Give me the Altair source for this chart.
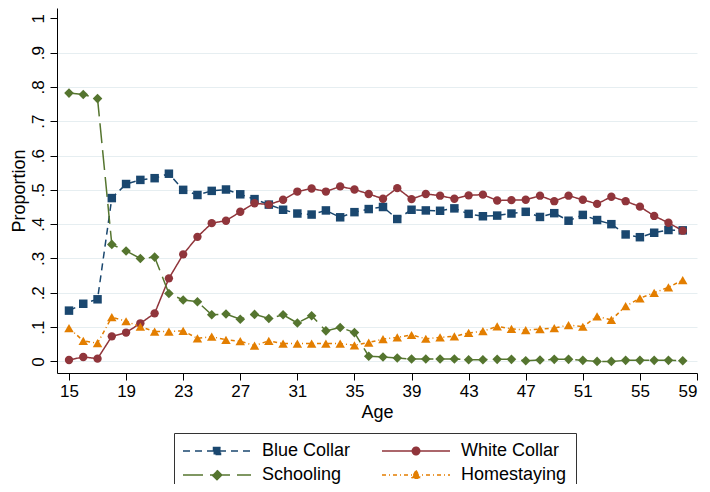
import altair as alt
import pandas as pd

ages = list(range(15, 59))

blue_collar = [0.148, 0.168, 0.181, 0.476, 0.517, 0.529, 0.534, 0.547, 0.500, 0.485,
               0.497, 0.501, 0.487, 0.473, 0.457, 0.442, 0.431, 0.428, 0.440, 0.420,
               0.435, 0.444, 0.450, 0.415, 0.442, 0.440, 0.439, 0.446, 0.430, 0.423,
               0.425, 0.431, 0.436, 0.421, 0.432, 0.410, 0.427, 0.412, 0.400, 0.370,
               0.362, 0.375, 0.383, 0.382]
white_collar = [0.004, 0.013, 0.008, 0.073, 0.084, 0.111, 0.140, 0.242, 0.312, 0.363,
                0.403, 0.410, 0.436, 0.461, 0.457, 0.471, 0.495, 0.504, 0.495, 0.510,
                0.501, 0.488, 0.474, 0.505, 0.473, 0.488, 0.483, 0.474, 0.484, 0.486,
                0.469, 0.470, 0.471, 0.483, 0.467, 0.483, 0.471, 0.459, 0.480, 0.467,
                0.451, 0.424, 0.404, 0.381]
schooling = [0.782, 0.778, 0.766, 0.341, 0.322, 0.300, 0.304, 0.198, 0.179, 0.174,
             0.136, 0.138, 0.123, 0.137, 0.125, 0.136, 0.112, 0.133, 0.089, 0.099,
             0.084, 0.015, 0.013, 0.010, 0.007, 0.007, 0.007, 0.007, 0.005, 0.005,
             0.006, 0.006, 0.002, 0.004, 0.006, 0.006, 0.003, 0.000, 0.000, 0.003,
             0.003, 0.003, 0.003, 0.002]
homestaying = [0.097, 0.060, 0.053, 0.129, 0.117, 0.101, 0.087, 0.087, 0.089, 0.067,
               0.072, 0.063, 0.059, 0.046, 0.060, 0.052, 0.052, 0.052, 0.052, 0.052,
               0.047, 0.055, 0.065, 0.070, 0.077, 0.066, 0.070, 0.073, 0.083, 0.088,
               0.102, 0.095, 0.091, 0.094, 0.097, 0.106, 0.101, 0.131, 0.121, 0.161,
               0.184, 0.200, 0.216, 0.237]

x_ticks = [15, 19, 23, 27, 31, 35, 39, 43, 47, 51, 55, 59]
y_ticks = [0, 0.1, 0.2, 0.3, 0.4, 0.5, 0.6, 0.7, 0.8, 0.9, 1]

# legend order (column-major in the legend grid)
series_names = ["Blue Collar", "Schooling", "White Collar", "Homestaying"]
colors = ["#1a476f", "#55752f", "#90353b", "#e37e00"]
shapes = ["square", "diamond", "circle", "triangle-up"]
sizes = [72, 92, 70, 90]
dashes = [[7, 5], [20, 7], [1, 0], [4, 3, 1, 3]]

rows = []
for name, vals in [("Blue Collar", blue_collar), ("White Collar", white_collar),
                   ("Schooling", schooling), ("Homestaying", homestaying)]:
    for a, v in zip(ages, vals):
        rows.append({"age": a, "value": v, "series": name})
df = pd.DataFrame(rows)

FONT = "Liberation Sans"

line_path = "M-6.8,0H6.8"
legend_paths = {
    "Blue Collar": line_path + "M-0.7,-0.7H0.7V0.7H-0.7Z",
    "White Collar": line_path + "M0.75,0A0.75,0.75 0 1,1 -0.75,0A0.75,0.75 0 1,1 0.75,0Z",
    "Schooling": line_path + "M0,-0.95L0.95,0L0,0.95L-0.95,0Z",
    "Homestaying": line_path + "M0,-0.9L0.9,0.65L-0.9,0.65Z",
}
shape_expr = " : ".join(
    [f"datum.value === '{k}' ? '{v}'" for k, v in legend_paths.items()]
) + " : 'circle'"

legend = alt.Legend(
    title=None,
    orient="none",
    legendX=117,
    legendY=425,
    columns=2,
    columnPadding=28,
    rowPadding=6,
    padding=9,
    symbolSize=100,
    symbolOffset=25,
    labelOffset=36,
    symbolStrokeWidth=1.5,
    symbolType={"expr": shape_expr},
    symbolFillColor={"expr": "scale('color', datum.value)"},
    symbolStrokeColor={"expr": "scale('color', datum.value)"},
    symbolDash={"expr": "scale('strokeDash', datum.value)"},
    symbolOpacity=1,
    labelFontSize=18,
    labelFont=FONT,
    labelColor="black",
    strokeColor="#333333",
    fillColor="white",
)

color = alt.Color("series:N", scale=alt.Scale(domain=series_names, range=colors), legend=legend)

x = alt.X(
    "age:Q",
    scale=alt.Scale(domain=[14.16, 59], nice=False, zero=False),
    axis=alt.Axis(values=x_ticks, title="Age", grid=False, tickSize=7,
                  labelFontSize=17, labelPadding=3, titleFontSize=18,
                  titleFontWeight="normal", titlePadding=4, labelColor="black",
                  titleColor="black", domainColor="black", tickColor="black"),
)
y = alt.Y(
    "value:Q",
    scale=alt.Scale(domain=[-0.0338, 1.030], nice=False, zero=False),
    axis=alt.Axis(
        values=y_ticks,
        labelExpr="datum.value == 0 ? '0' : datum.value >= 1 ? '1' : replace(format(datum.value, '.1f'), '0.', '.')",
        labelAngle=270, labelAlign="center", labelBaseline="alphabetic",
        labelPadding=7, tickSize=7, labelFontSize=17,
        grid=True, gridColor="#e6eef1", gridWidth=1,
        gridOpacity={"condition": {"test": "datum.value > 0.95", "value": 0}, "value": 1},
        title="Proportion", titleFontSize=18, titleFontWeight="normal", titlePadding=1,
        labelColor="black", titleColor="black", domainColor="black", tickColor="black",
    ),
)

base = alt.Chart(df)

lines = base.mark_line(strokeWidth=1.5).encode(
    x=x, y=y, color=color,
    strokeDash=alt.StrokeDash("series:N", scale=alt.Scale(domain=series_names, range=dashes), legend=None),
    detail="series:N",
)

point_layers = []
for name, shp, sz in zip(series_names, shapes, sizes):
    point_layers.append(
        base.transform_filter(alt.datum.series == name)
        .mark_point(filled=True, opacity=1, shape=shp, size=sz)
        .encode(x=x, y=y, color=color)
    )

chart = alt.layer(lines, *point_layers).properties(
    width=640, height=365,
    autosize="none",
    padding={"left": 49, "top": 0, "right": 5, "bottom": 111},
    background="white",
).configure(font=FONT).configure_view(stroke=None)

chart.save("out.html", embed_options={"renderer": "svg", "actions": False})
